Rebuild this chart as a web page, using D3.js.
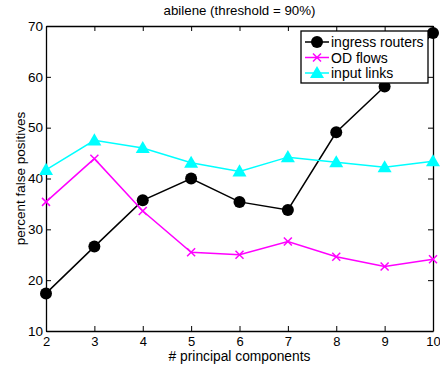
<!DOCTYPE html>
<html>
<head>
<meta charset="utf-8">
<script src="https://cdn.jsdelivr.net/npm/d3@7"></script>
<style>
  body { margin: 0; background: #fff; }
  text { font-family: "Liberation Sans", Arial, Helvetica, sans-serif; fill: #000; }
</style>
</head>
<body>
<script>
const components = [2, 3, 4, 5, 6, 7, 8, 9, 10];
const ingressRouters = [17.4, 26.6, 35.7, 40.0, 35.4, 33.8, 49.1, 58.1, 68.6];
const odFlows = [35.4, 43.9, 33.6, 25.5, 25.0, 27.6, 24.6, 22.7, 24.1];
const inputLinks = [41.7, 47.5, 46.0, 43.1, 41.4, 44.2, 43.2, 42.2, 43.4];
const yTicks = [10, 20, 30, 40, 50, 60, 70];
const seriesNames = ["ingress routers", "OD flows", "input links"];

const width = 440;
const height = 366;
const margin = {top: 26, right: 7, bottom: 35, left: 46};

const svg = d3.select("body")
    .append("svg")
    .attr("width", width)
    .attr("height", height);

const x = d3.scaleLinear().domain([2, 10]).range([margin.left, width - margin.right]);
const y = d3.scaleLinear().domain([10, 70]).range([height - margin.bottom, margin.top]);

// frame with inward ticks on every side
const axisB = svg.append("g")
    .attr("transform", `translate(0,${y(10)})`)
    .call(d3.axisBottom(x).tickValues(components).tickSizeInner(-5).tickSizeOuter(0).tickPadding(5.5));
const axisT = svg.append("g")
    .attr("transform", `translate(0,${y(70)})`)
    .call(d3.axisTop(x).tickValues(components).tickSizeInner(-5).tickSizeOuter(0).tickFormat(""));
const axisL = svg.append("g")
    .attr("transform", `translate(${x(2)},0)`)
    .call(d3.axisLeft(y).tickValues(yTicks).tickSizeInner(-5).tickSizeOuter(0).tickPadding(3));
const axisR = svg.append("g")
    .attr("transform", `translate(${x(10)},0)`)
    .call(d3.axisRight(y).tickValues(yTicks).tickSizeInner(-5).tickSizeOuter(0).tickFormat(""));

[axisB, axisT, axisL, axisR].forEach(g => {
    g.select(".domain").attr("stroke", "#000").attr("stroke-width", 1.3);
    g.selectAll(".tick line").attr("stroke", "#000");
    g.selectAll("text").attr("font-size", 13.5).attr("fill", "#000")
        .style("font-family", "'Liberation Sans', Arial, sans-serif");
});
axisB.selectAll("text").attr("dy", "0.71em").attr("font-size", 13);

const line = d3.line()
    .x((d, i) => x(components[i]))
    .y(d => y(d));

const series = [
    {name: seriesNames[0], values: ingressRouters, color: "#000000", marker: "circle"},
    {name: seriesNames[1], values: odFlows, color: "#ff00ff", marker: "cross"},
    {name: seriesNames[2], values: inputLinks, color: "#00ffff", marker: "triangle"}
];

const triangle = d3.symbol().type(d3.symbolTriangle).size(85);

function drawMarker(g, s, cx, cy) {
    if (s.marker === "circle") {
        g.append("circle").attr("cx", cx).attr("cy", cy).attr("r", 6).attr("fill", s.color);
    } else if (s.marker === "cross") {
        g.append("path")
            .attr("d", `M${cx - 4},${cy - 4}L${cx + 4},${cy + 4}M${cx - 4},${cy + 4}L${cx + 4},${cy - 4}`)
            .attr("stroke", s.color).attr("stroke-width", 1.5);
    } else {
        g.append("path").attr("d", triangle).attr("transform", `translate(${cx},${cy + 1})`)
            .attr("fill", s.color);
    }
}

series.forEach(s => {
    const g = svg.append("g");
    g.append("path")
        .datum(s.values)
        .attr("d", line)
        .attr("fill", "none")
        .attr("stroke", s.color)
        .attr("stroke-width", 1.5);
    s.values.forEach((v, i) => drawMarker(g, s, x(components[i]), y(v)));
});

// title and labels
svg.append("text")
    .attr("x", (x(2) + x(10)) / 2)
    .attr("y", 15)
    .attr("text-anchor", "middle")
    .attr("font-size", 13.3)
    .text("abilene (threshold = 90%)");

svg.append("text")
    .attr("x", (x(2) + x(10)) / 2)
    .attr("y", 361)
    .attr("text-anchor", "middle")
    .attr("font-size", 13.8)
    .text("# principal components");

svg.append("text")
    .attr("transform", `translate(25,${(y(10) + y(70)) / 2}) rotate(-90)`)
    .attr("text-anchor", "middle")
    .attr("font-size", 13.5)
    .text("percent false positives");

// legend
const legend = svg.append("g").attr("transform", "translate(301,31)");
legend.append("rect")
    .attr("width", 127).attr("height", 52)
    .attr("fill", "#fff").attr("stroke", "#000").attr("stroke-width", 1.3);
series.forEach((s, i) => {
    const ly = 11 + i * 15.5;
    const g = legend.append("g");
    g.append("line").attr("x1", 4).attr("x2", 28).attr("y1", ly).attr("y2", ly)
        .attr("stroke", s.color).attr("stroke-width", 1.5);
    drawMarker(g, s, 16, ly);
    g.append("text").attr("x", 30).attr("y", ly).attr("dy", "0.36em")
        .attr("font-size", 14).text(s.name);
});
</script>
</body>
</html>
